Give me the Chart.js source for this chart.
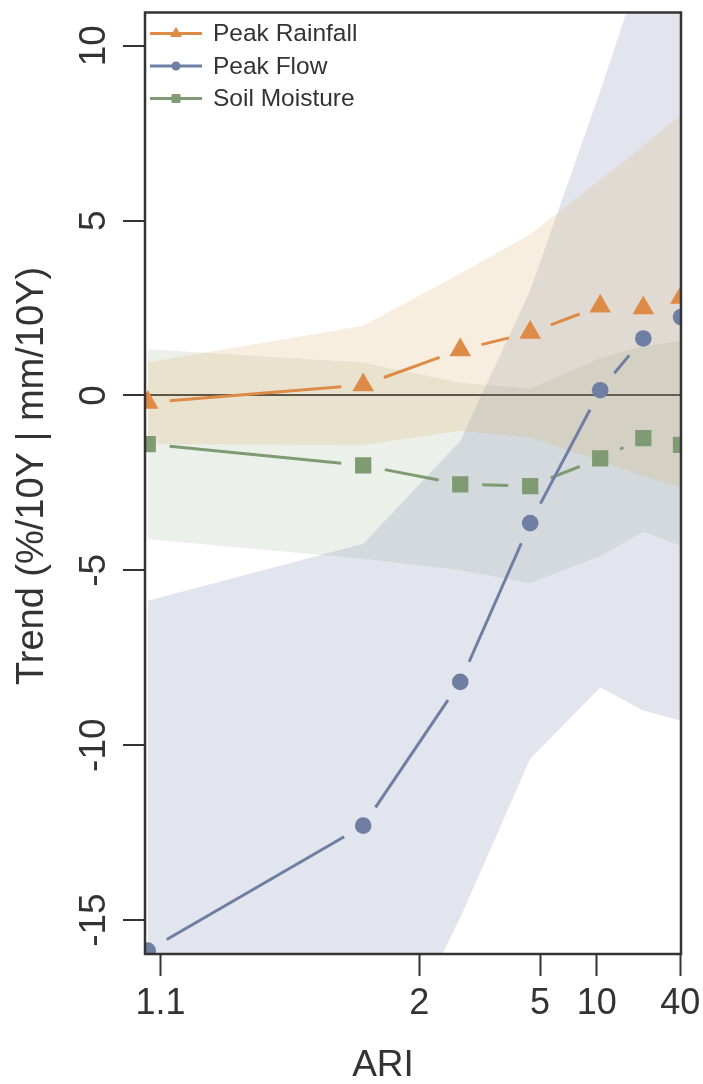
<!DOCTYPE html>
<html>
<head>
<meta charset="utf-8">
<script src="https://cdn.jsdelivr.net/npm/chart.js@4.4.1/dist/chart.umd.min.js"></script>
<style>
  body { margin: 0; background: #fff; }
  canvas { display: block; }
</style>
</head>
<body>
<canvas id="myChart" width="703" height="1084"></canvas>
<script>
// ARI of each point, and the x axis ticks
const ari = [1.09, 1.58, 2.54, 4.52, 10.5, 20.5, 40.5];
const xLimits = [1.088, 40.5];
const tickAri = [1.1, 2, 5, 10, 40];
const tickLabels = ['1.1', '2', '5', '10', '40'];
const yTicks = [-15, -10, -5, 0, 5, 10];

// trends (%/10Y | mm/10Y)
const rainfall = [-0.2, 0.3, 1.3, 1.8, 2.55, 2.5, 2.8];
const rainfallUpper = [0.95, 1.99, 3.49, 4.61, 6.17, 7.13, 8.04];
const rainfallLower = [-1.39, -1.42, -1.01, -1.2, -1.87, -2.3, -2.63];

const flow = [-15.87, -12.3, -8.19, -3.65, 0.15, 1.63, 2.24];
const flowUpper = [-5.87, -4.24, -1.3, 3.0, 8.7, 12.4, 15.6];
const flowLower = [-26, -20.6, -14.93, -10.39, -8.35, -9.01, -9.3];

const soil = [-1.39, -2.0, -2.54, -2.59, -1.8, -1.22, -1.41];
const soilUpper = [1.32, 0.94, 0.36, 0.19, 1.07, 1.41, 1.56];
const soilLower = [-4.11, -4.67, -5.0, -5.36, -4.6, -3.9, -4.3];

const ORANGE = '#DF8B48';
const BLUE = '#6E7FA3';
const GREEN = '#7E9B73';
const FONT = "'Liberation Sans', Arial, sans-serif";

Chart.defaults.font.family = FONT;
Chart.defaults.color = '#333';

// compressed ARI axis
function ariPos(t) {
    return Math.log(Math.pow(t, 0.25) - 1);
}

function toPoints(values) {
    return values.map((v, i) => ({ x: ariPos(ari[i]), y: v }));
}

// line with a gap round each marker (like R type = "b")
const GAP = 22;
function gapDash(ctx) {
    const len = Math.hypot(ctx.p1.x - ctx.p0.x, ctx.p1.y - ctx.p0.y);
    if (len <= 2 * GAP) return [0, len + 1000];
    return [0, GAP, len - 2 * GAP, GAP + 1000];
}

function band(upper, lower, color) {
    return [
        { data: toPoints(upper), fill: '+1', backgroundColor: color, borderColor: 'rgba(0,0,0,0)', borderWidth: 0, pointRadius: 0, order: 2, clip: 0 },
        { data: toPoints(lower), fill: false, borderColor: 'rgba(0,0,0,0)', borderWidth: 0, pointRadius: 0, order: 2, clip: 0 }
    ];
}

function series(label, values, color, style, radius) {
    return {
        label: label,
        data: toPoints(values),
        borderColor: color,
        backgroundColor: color,
        pointBackgroundColor: color,
        pointStyle: style,
        pointRadius: radius,
        pointBorderWidth: 0,
        borderWidth: 3,
        fill: false,
        order: 0,
        clip: 0,
        segment: { borderDash: gapDash }
    };
}

const lineSeries = [
    series('Peak Rainfall', rainfall, ORANGE, 'triangle', 12.5),
    series('Peak Flow', flow, BLUE, 'circle', 8.3),
    series('Soil Moisture', soil, GREEN, 'rect', 11.5)
];

// frame round the plot
const framePlugin = {
    id: 'frame',
    afterDatasetsDraw(chart) {
        const { ctx, chartArea: a } = chart;
        ctx.save();
        ctx.strokeStyle = '#333';
        ctx.lineWidth = 2.5;
        ctx.strokeRect(a.left, a.top, a.right - a.left, a.bottom - a.top);
        ctx.restore();
    }
};

// legend inside the top left corner, plus the axis titles
const legendPlugin = {
    id: 'insideLegend',
    afterDraw(chart) {
        const ctx = chart.ctx;
        const a = chart.chartArea;
        lineSeries.forEach((d, i) => {
            const y = a.top + 21 + i * 32.5;
            const x0 = a.left + 5;
            ctx.save();
            ctx.strokeStyle = d.borderColor;
            ctx.lineWidth = 3;
            ctx.beginPath();
            ctx.moveTo(x0, y);
            ctx.lineTo(x0 + 52, y);
            ctx.stroke();
            ctx.fillStyle = d.borderColor;
            Chart.helpers.drawPoint(ctx, { pointStyle: d.pointStyle, radius: d.pointRadius * 0.55, rotation: 0, borderWidth: 0 }, x0 + 26, y);
            ctx.fillStyle = '#333';
            ctx.font = '24.5px ' + FONT;
            ctx.textBaseline = 'middle';
            ctx.fillText(d.label, x0 + 63, y + 1);
            ctx.restore();
        });

        ctx.save();
        ctx.fillStyle = '#333';
        ctx.textAlign = 'center';
        ctx.textBaseline = 'middle';
        ctx.font = '37px ' + FONT;
        ctx.fillText('ARI', 383, 1066);
        ctx.translate(33, 476);
        ctx.rotate(-Math.PI / 2);
        ctx.font = '38px ' + FONT;
        ctx.fillText('Trend (%/10Y | mm/10Y)', 0, 0);
        ctx.restore();
    }
};

new Chart(document.getElementById('myChart'), {
    type: 'line',
    data: {
        datasets: [
            ...band(rainfallUpper, rainfallLower, 'rgba(215, 170, 100, 0.2)'),
            ...band(flowUpper, flowLower, 'rgba(110, 127, 163, 0.2)'),
            ...band(soilUpper, soilLower, 'rgba(126, 155, 115, 0.15)'),
            ...lineSeries
        ]
    },
    options: {
        responsive: false,
        animation: false,
        devicePixelRatio: 1,
        layout: { padding: { top: 11, right: 22, left: 0, bottom: 0 } },
        plugins: {
            legend: { display: false },
            tooltip: { enabled: false }
        },
        scales: {
            x: {
                type: 'linear',
                min: ariPos(xLimits[0]),
                max: ariPos(xLimits[1]),
                afterBuildTicks: s => { s.ticks = tickAri.map(t => ({ value: ariPos(t) })); },
                afterFit: s => { s.height = 130; s.paddingLeft = 0; s.paddingRight = 0; },
                ticks: {
                    callback: (v, i) => tickLabels[i],
                    font: { size: 36, lineHeight: 1 },
                    color: '#333',
                    padding: 10,
                    autoSkip: false,
                    maxRotation: 0
                },
                grid: { drawOnChartArea: false, tickLength: 22, tickColor: '#333', tickWidth: 2 },
                border: { display: false }
            },
            y: {
                min: -15.97,
                max: 10.95,
                afterBuildTicks: s => { s.ticks = yTicks.map(v => ({ value: v })); },
                afterFit: s => { s.width = 145; s.paddingTop = 0; s.paddingBottom = 0; },
                ticks: {
                    font: { size: 37, lineHeight: 1 },
                    color: '#333',
                    minRotation: 90,
                    maxRotation: 90,
                    crossAlign: 'center',
                    padding: 1
                },
                grid: {
                    color: ctx => (ctx.tick && ctx.tick.value === 0 ? '#333' : 'rgba(0,0,0,0)'),
                    lineWidth: 2,
                    tickLength: 22,
                    tickColor: '#333',
                    tickWidth: 2
                },
                border: { display: false }
            }
        }
    },
    plugins: [framePlugin, legendPlugin]
});
</script>
</body>
</html>
